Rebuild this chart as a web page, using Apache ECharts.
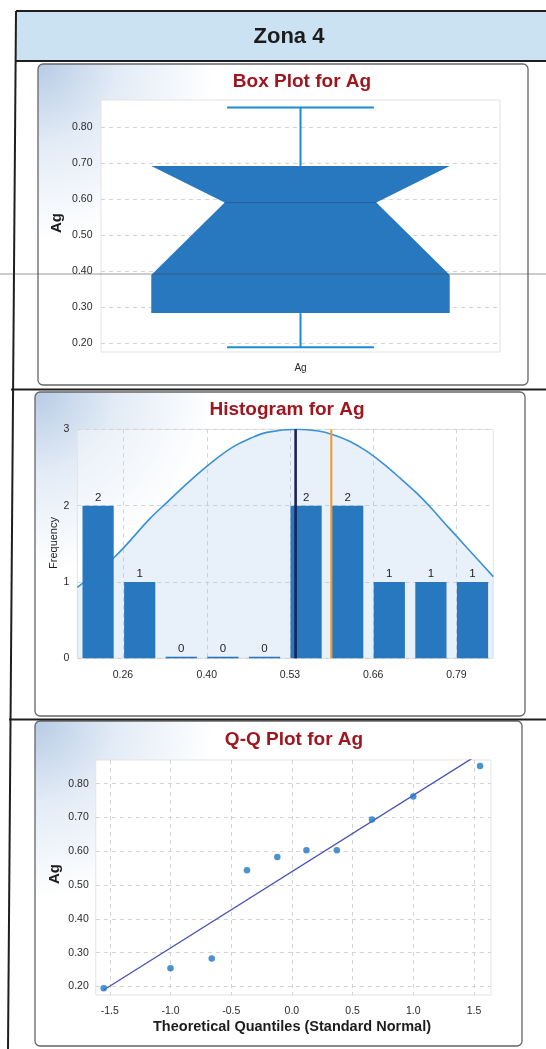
<!DOCTYPE html>
<html>
<head>
<meta charset="utf-8">
<script src="https://cdn.jsdelivr.net/npm/echarts@6/dist/echarts.min.js"></script>
<style>
html,body{margin:0;padding:0;background:#fff;}
#c{width:546px;height:1049px;}
</style>
</head>
<body>
<div id="c"></div>
<script>
// ---------- texts ----------
const headerTitle = 'Zona 4';
const boxTitle = 'Box Plot for Ag';
const histTitle = 'Histogram for Ag';
const qqTitle = 'Q-Q Plot for Ag';
const varName = 'Ag';
const freqName = 'Frequency';
const qqXName = 'Theoretical Quantiles (Standard Normal)';

// ---------- box plot ----------
const boxCategories = ['Ag'];
// min, Q1, notch low, median, notch high, Q3, max
const boxValues = [0.188, 0.283, 0.389, 0.590, 0.692, 0.692, 0.854];
const boxYTicks = [0.20, 0.30, 0.40, 0.50, 0.60, 0.70, 0.80];

// ---------- histogram ----------
const histBinEdges = [0.190, 0.2565, 0.323, 0.3895, 0.456, 0.5225, 0.589, 0.6555, 0.722, 0.7885, 0.855];
const histCounts = [2, 1, 0, 0, 0, 2, 2, 1, 1, 1];
const histTickValues = [0.263, 0.397, 0.530, 0.663, 0.796];
const histTickLabels = ['0.26', '0.40', '0.53', '0.66', '0.79'];
const curveX = [0.190, 0.250, 0.306, 0.333, 0.360, 0.386, 0.413, 0.439, 0.466, 0.493, 0.541, 0.573, 0.599, 0.626, 0.653, 0.679, 0.706, 0.733, 0.759, 0.775, 0.794, 0.826, 0.855];
const curveY = [0.93, 1.33, 1.83, 2.04, 2.25, 2.44, 2.62, 2.77, 2.88, 2.96, 3.00, 2.98, 2.93, 2.84, 2.71, 2.55, 2.36, 2.16, 1.94, 1.79, 1.62, 1.33, 1.07];
const meanLineX = 0.539;
const medianLineX = 0.596;

// ---------- Q-Q plot ----------
const qqTheoretical = [-1.55, -1.00, -0.66, -0.37, -0.12, 0.12, 0.37, 0.66, 1.00, 1.55];
const qqSample = [0.195, 0.254, 0.283, 0.544, 0.583, 0.603, 0.603, 0.694, 0.762, 0.852];
const qqLineX = [-1.55, 1.48];
const qqLineY = [0.190, 0.874];
const qqXTicks = [-1.5, -1.0, -0.5, 0.0, 0.5, 1.0, 1.5];
const qqYTicks = [0.20, 0.30, 0.40, 0.50, 0.60, 0.70, 0.80];

// ---------- styling ----------
const FONT = "'Liberation Sans', Arial, Helvetica, sans-serif";
const TITLE_RED = '#a0161f';
const BLUE = '#2878c0';
const WHISKER = '#1b8bd3';
const GRID_LINE = { show: true, lineStyle: { color: '#d3d3d3', type: [4, 4], width: 1 } };
const LABEL = { color: '#2a2a2a', fontSize: 10.5, fontFamily: FONT };

function panel(x, y, w, h) {
  return {
    type: 'rect', z: -10,
    shape: { x: x, y: y, width: w, height: h, r: 5 },
    style: {
      fill: { type: 'radial', x: 0, y: 0, r: 0.55,
        colorStops: [{ offset: 0, color: '#b7cbe5' }, { offset: 0.45, color: '#e2ebf6' }, { offset: 1, color: '#ffffff' }] },
      stroke: '#666', lineWidth: 1.3
    }
  };
}
function hline(x1, x2, y, w, col) {
  return { type: 'line', z: -5, shape: { x1: x1, y1: y, x2: x2, y2: y }, style: { stroke: col || '#1e1e1e', lineWidth: w || 2 } };
}
function txt(t, x, y, size, weight, color, rot) {
  return {
    type: 'text', z: 50, x: x, y: y, rotation: rot || 0,
    style: { text: t, fontSize: size, fontWeight: weight, fill: color, fontFamily: FONT, align: 'center', verticalAlign: 'middle' }
  };
}
function nearestLabel(v) {
  let best = 0;
  for (let i = 1; i < histTickValues.length; i++) {
    if (Math.abs(histTickValues[i] - v) < Math.abs(histTickValues[best] - v)) best = i;
  }
  return histTickLabels[best];
}

const chart = echarts.init(document.getElementById('c'), null, { renderer: 'canvas', width: 546, height: 1049 });

const option = {
  animation: false,
  backgroundColor: '#ffffff',
  textStyle: { fontFamily: FONT },
  graphic: [
    // table frame
    { type: 'rect', z: -20, shape: { x: 16, y: 11, width: 530, height: 50 }, style: { fill: '#cbe2f3' } },
    hline(16, 546, 11, 2),
    hline(16, 546, 61, 2),
    hline(11, 546, 389.5, 2),
    hline(9, 546, 719.5, 2),
    { type: 'line', z: -5, shape: { x1: 16, y1: 11, x2: 8, y2: 1049 }, style: { stroke: '#1e1e1e', lineWidth: 2 } },
    // panels
    panel(38, 64, 490, 321),
    panel(35, 392, 490, 324),
    panel(35, 721, 487, 325),
    // titles
    txt(headerTitle, 289, 37, 22, 'bold', '#1c1c1c'),
    txt(boxTitle, 302, 82, 19, 'bold', TITLE_RED),
    txt(histTitle, 287, 410, 19, 'bold', TITLE_RED),
    txt(qqTitle, 294, 740, 19, 'bold', TITLE_RED),
    // axis names
    txt(varName, 57, 223, 15, 'bold', '#1c1c1c', Math.PI / 2),
    txt(freqName, 54, 543, 11, 'normal', '#1c1c1c', Math.PI / 2),
    txt(varName, 55, 874, 15, 'bold', '#1c1c1c', Math.PI / 2),
    txt(qqXName, 292, 1027, 14.5, 'bold', '#1c1c1c'),
    // scan line across the page
    { type: 'line', z: 100, shape: { x1: 0, y1: 274, x2: 546, y2: 274 }, style: { stroke: 'rgba(70,70,70,0.55)', lineWidth: 1 } }
  ],
  grid: [
    { left: 101, top: 100, width: 399, height: 252, show: true, backgroundColor: '#ffffff', borderColor: '#e3e3e3', borderWidth: 1 },
    { left: 77.3, top: 429.3, width: 416, height: 229, show: true, backgroundColor: 'rgba(255,255,255,0.35)', borderColor: '#e3e3e3', borderWidth: 1 },
    { left: 95.8, top: 760, width: 395.2, height: 235, show: true, backgroundColor: '#ffffff', borderColor: '#e3e3e3', borderWidth: 1 }
  ],
  xAxis: [
    { gridIndex: 0, type: 'category', data: boxCategories,
      axisLine: { show: false }, axisTick: { show: false },
      axisLabel: Object.assign({}, LABEL, { fontSize: 10, margin: 11 }), splitLine: { show: false } },
    { gridIndex: 1, type: 'value', min: histBinEdges[0], max: histBinEdges[histBinEdges.length - 1],
      axisLine: { show: false }, axisTick: { show: false, customValues: histTickValues },
      axisLabel: Object.assign({}, LABEL, { customValues: histTickValues, margin: 11, formatter: function (v) { return nearestLabel(v); } }),
      splitLine: GRID_LINE },
    { gridIndex: 2, type: 'value', min: -1.615, max: 1.64,
      axisLine: { show: false }, axisTick: { show: false, customValues: qqXTicks },
      axisLabel: Object.assign({}, LABEL, { customValues: qqXTicks, margin: 10.5, formatter: function (v) { return v.toFixed(1); } }),
      splitLine: GRID_LINE }
  ],
  yAxis: [
    { gridIndex: 0, type: 'value', min: 0.175, max: 0.875,
      axisLine: { show: false }, axisTick: { show: false, customValues: boxYTicks },
      axisLabel: Object.assign({}, LABEL, { customValues: boxYTicks, margin: 8.5, formatter: function (v) { return v.toFixed(2); } }),
      splitLine: GRID_LINE },
    { gridIndex: 1, type: 'value', min: 0, max: 3, interval: 1,
      axisLine: { show: false }, axisTick: { show: false },
      axisLabel: Object.assign({}, LABEL, { margin: 8 }),
      splitLine: GRID_LINE },
    { gridIndex: 2, type: 'value', min: 0.175, max: 0.87,
      axisLine: { show: false }, axisTick: { show: false, customValues: qqYTicks },
      axisLabel: Object.assign({}, LABEL, { customValues: qqYTicks, margin: 7, formatter: function (v) { return v.toFixed(2); } }),
      splitLine: GRID_LINE }
  ],
  series: [
    // notched box plot
    {
      type: 'custom', xAxisIndex: 0, yAxisIndex: 0, z: 5,
      encode: { x: 0, y: [1, 2, 3, 4, 5, 6, 7] },
      data: [[0].concat(boxValues)],
      renderItem: function (params, api) {
        const c = api.value(0);
        const band = api.size([1, 0])[0];
        const cx = api.coord([c, api.value(4)])[0];
        const py = function (i) { return api.coord([c, api.value(i)])[1]; };
        const yMin = py(1), yQ1 = py(2), yNL = py(3), yMed = py(4), yNH = py(5), yQ3 = py(6), yMax = py(7);
        const hw = band * 0.374, hn = band * 0.19, hc = band * 0.184;
        return {
          type: 'group',
          children: [
            { type: 'line', shape: { x1: cx, y1: yQ3, x2: cx, y2: yMax }, style: { stroke: WHISKER, lineWidth: 2 } },
            { type: 'line', shape: { x1: cx - hc, y1: yMax, x2: cx + hc, y2: yMax }, style: { stroke: WHISKER, lineWidth: 2 } },
            { type: 'line', shape: { x1: cx, y1: yQ1, x2: cx, y2: yMin }, style: { stroke: WHISKER, lineWidth: 2 } },
            { type: 'line', shape: { x1: cx - hc, y1: yMin, x2: cx + hc, y2: yMin }, style: { stroke: WHISKER, lineWidth: 2 } },
            { type: 'polygon', shape: { points: [
                [cx - hw, yQ3], [cx + hw, yNH], [cx + hn, yMed], [cx + hw, yNL],
                [cx + hw, yQ1], [cx - hw, yQ1], [cx - hw, yNL], [cx - hn, yMed]
              ] }, style: { fill: BLUE } },
            { type: 'line', shape: { x1: cx - hn, y1: yMed, x2: cx + hn, y2: yMed }, style: { stroke: 'rgba(20,50,100,0.35)', lineWidth: 1 } }
          ]
        };
      }
    },
    // histogram normal curve with area
    {
      type: 'line', xAxisIndex: 1, yAxisIndex: 1, z: 2,
      data: curveX.map(function (x, i) { return [x, curveY[i]]; }),
      smooth: 0.35, symbol: 'none',
      lineStyle: { color: '#3a91d3', width: 1.6 },
      areaStyle: { color: 'rgba(150,190,232,0.32)' }
    },
    // histogram bars
    {
      type: 'custom', xAxisIndex: 1, yAxisIndex: 1, z: 4,
      encode: { x: [0, 1], y: 2 },
      data: histCounts.map(function (c, i) { return [histBinEdges[i], histBinEdges[i + 1], c]; }),
      renderItem: function (params, api) {
        const p0 = api.coord([api.value(0), api.value(2)]);
        const p1 = api.coord([api.value(1), 0]);
        const w = p1[0] - p0[0];
        const h = Math.max(p1[1] - p0[1], 1.6);
        const top = p1[1] - h;
        return {
          type: 'group',
          children: [
            { type: 'rect', shape: { x: p0[0] + w * 0.125, y: top, width: w * 0.75, height: h }, style: { fill: BLUE } },
            { type: 'text', style: { text: String(api.value(2)), x: p0[0] + w / 2, y: top - 2, align: 'center', verticalAlign: 'bottom', fontSize: 11.5, fill: '#1e1e1e', fontFamily: FONT } }
          ]
        };
      }
    },
    // mean line
    {
      type: 'line', xAxisIndex: 1, yAxisIndex: 1, z: 6, symbol: 'none',
      data: [[meanLineX, 0], [meanLineX, 3]],
      lineStyle: { color: '#1b2356', width: 2.6 }
    },
    // median line
    {
      type: 'line', xAxisIndex: 1, yAxisIndex: 1, z: 6, symbol: 'none',
      data: [[medianLineX, 0], [medianLineX, 3]],
      lineStyle: { color: '#f39a1c', width: 2 }
    },
    // Q-Q reference line
    {
      type: 'line', xAxisIndex: 2, yAxisIndex: 2, z: 3, symbol: 'none', clip: true,
      data: [[qqLineX[0], qqLineY[0]], [qqLineX[1], qqLineY[1]]],
      lineStyle: { color: '#4650b4', width: 1.3 }
    },
    // Q-Q points
    {
      type: 'scatter', xAxisIndex: 2, yAxisIndex: 2, z: 4,
      symbolSize: 6.5,
      data: qqTheoretical.map(function (x, i) { return [x, qqSample[i]]; }),
      itemStyle: { color: '#1f77c6' }
    }
  ]
};
chart.setOption(option);
</script>
</body>
</html>
